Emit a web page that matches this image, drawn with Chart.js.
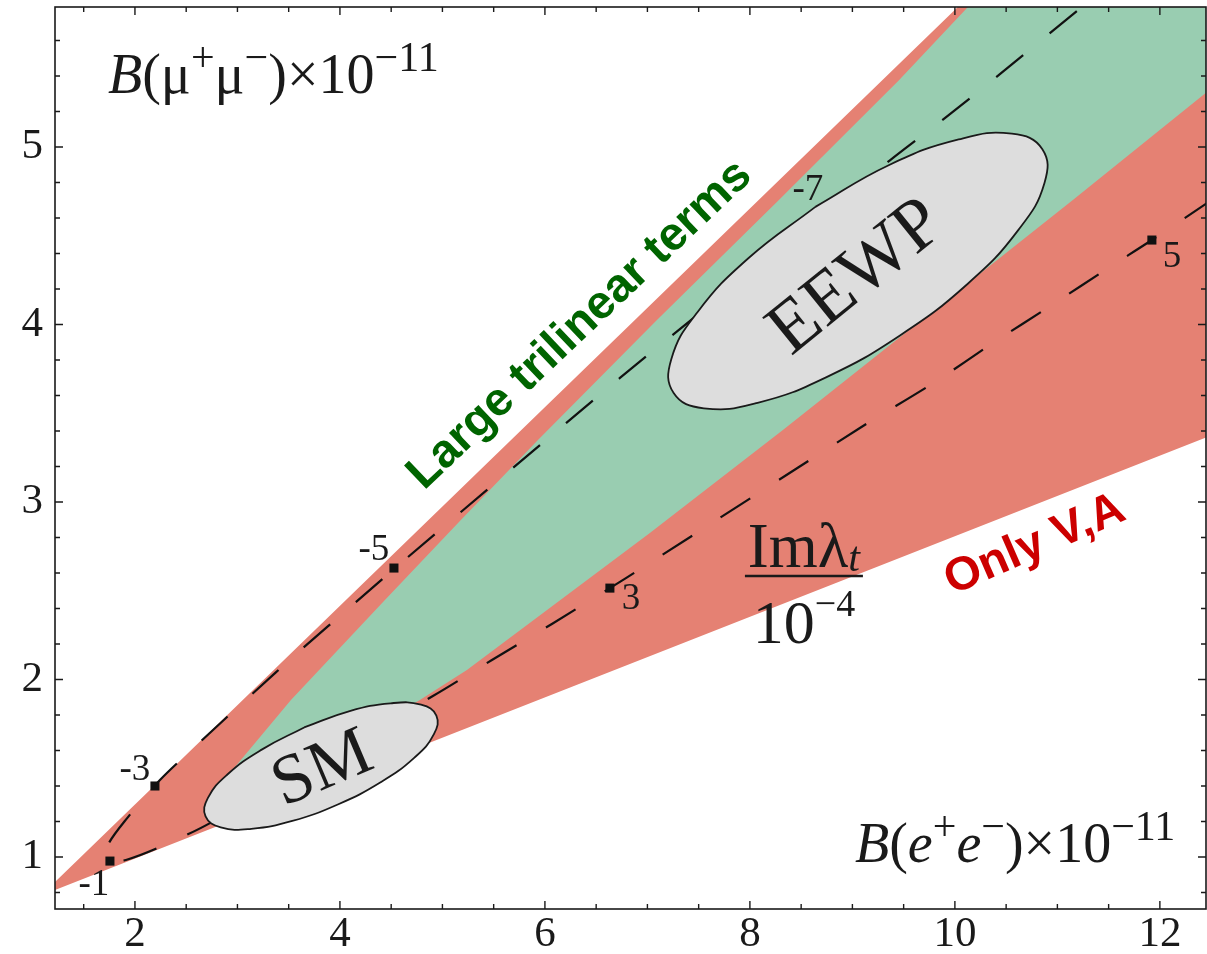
<!DOCTYPE html>
<html>
<head>
<meta charset="utf-8">
<script src="https://cdn.jsdelivr.net/npm/chart.js@4.4.1/dist/chart.umd.min.js"></script>
<style>
  html, body { margin: 0; padding: 0; background: #fff; }
  #wrap { width: 1207px; height: 954px; }
</style>
</head>
<body>
<div id="wrap"><canvas id="chart" width="1207" height="954"></canvas></div>
<script>
// x = B(e+e-) x 1e-11, y = B(mu+mu-) x 1e-11
const xTicks = [2, 4, 6, 8, 10, 12];
const yTicks = [1, 2, 3, 4, 5];

// red wedge ("Only V,A")
const onlyVABand = [
  [1.085, 0.783], [10.40, 5.997], [12.60, 5.997], [12.60, 3.398], [1.085, 0.783]
];

// green band ("Large trilinear terms")
const trilinearBand = [
  [2.849, 1.321], [2.927, 1.473], [3.522, 1.885], [4.439, 2.448], [5.180, 2.899],
  [5.932, 3.349], [7.093, 4.025], [8.283, 4.701], [9.454, 5.377], [10.127, 5.789],
  [10.341, 5.918], [12.60, 5.918], [12.60, 5.376], [12.459, 5.310], [11.151, 4.701],
  [8.322, 3.406], [7.024, 2.825], [5.239, 2.054], [4.780, 1.885], [3.610, 1.490],
  [2.849, 1.321]
];

// dashed Im(lambda_t) curve
const imLambdaCurve = [
  [11.512, 5.918], [11.239, 5.789], [10.439, 5.411], [9.902, 5.163], [9.366, 4.925],
  [7.512, 4.065], [6.732, 3.699], [5.688, 3.192], [4.654, 2.685], [4.146, 2.431],
  [3.629, 2.172], [3.122, 1.907], [2.624, 1.642], [2.244, 1.434], [1.932, 1.225],
  [1.727, 1.056], [1.756, 0.977], [1.912, 0.983], [2.244, 1.056], [2.732, 1.191],
  [4.907, 1.907], [5.483, 2.110], [6.068, 2.313], [6.634, 2.515], [6.946, 2.628],
  [9.073, 3.417], [9.805, 3.676], [10.371, 3.896], [10.946, 4.110], [11.512, 4.324],
  [11.922, 4.476], [12.459, 4.684], [12.683, 4.769]
];

// marked values of Im(lambda_t)/1e-4 along the curve
const markerX = [1.756, 2.195, 4.527, 8.780, 6.634, 11.922];
const markerY = [0.977, 1.400, 2.628, 4.656, 2.515, 4.476];
const markerText = ['-1', '-3', '-5', '-7', '3', '5'];

// ellipse outlines
const smOutline = [
  [3.651, 1.730], [3.237, 1.605], [2.902, 1.465], [2.712, 1.333], [2.689, 1.229],
  [2.837, 1.167], [3.135, 1.159], [3.535, 1.203], [3.979, 1.296], [4.397, 1.421],
  [4.727, 1.560], [4.917, 1.692], [4.941, 1.797], [4.792, 1.858], [4.495, 1.866],
  [4.095, 1.822], [3.651, 1.730]
];
const eewpOutline = [
  [8.639, 4.663], [7.982, 4.372], [7.490, 4.071], [7.233, 3.805], [7.256, 3.614],
  [7.551, 3.528], [8.075, 3.559], [8.748, 3.704], [9.468, 3.940], [10.126, 4.230],
  [10.618, 4.532], [10.874, 4.798], [10.852, 4.989], [10.556, 5.075], [10.037, 5.043],
  [9.359, 4.899], [8.639, 4.663]
];

const SERIF = "'Liberation Serif', 'Times New Roman', serif";
const SANS = "'Liberation Sans', Arial, sans-serif";
const INK = '#1a1a1a';
const RED = '#e58173';
const GREEN = '#99cdb1';

const toPts = arr => arr.map(([x, y]) => ({ x, y }));

const xMinor = [];
for (let v = 1.5; v <= 12.01; v += 0.5) xMinor.push(Math.round(v * 10) / 10);
const yMinor = [];
for (let v = 0.8; v <= 5.61; v += 0.2) yMinor.push(Math.round(v * 10) / 10);

const labelOffsets = [[-16, 24], [-20, -16], [-20, -18], [-22, -18], [21, 11], [20, 17]];

function richText(ctx, x, y, parts, align) {
  let w = 0;
  parts.forEach(p => { ctx.font = p.font; w += ctx.measureText(p.t).width; });
  let cx = align === 'center' ? x - w / 2 : x;
  parts.forEach(p => {
    ctx.font = p.font;
    ctx.fillText(p.t, cx, y + (p.dy || 0));
    cx += ctx.measureText(p.t).width;
  });
}

function rotatedText(ctx, px, py, deg, text, font, color) {
  ctx.save();
  ctx.translate(px, py);
  ctx.rotate(deg * Math.PI / 180);
  ctx.font = font;
  ctx.fillStyle = color;
  ctx.textAlign = 'center';
  ctx.textBaseline = 'middle';
  ctx.fillText(text, 0, 0);
  ctx.restore();
}

const decor = {
  id: 'decor',
  afterDatasetsDraw(chart) {
    const { ctx, chartArea: a, scales: { x, y } } = chart;
    ctx.save();

    // frame + inward ticks on all sides
    ctx.strokeStyle = INK;
    ctx.lineWidth = 1.6;
    ctx.strokeRect(a.left, a.top, a.right - a.left, a.bottom - a.top);
    ctx.lineWidth = 1.4;
    ctx.beginPath();
    xMinor.forEach(v => {
      const px = x.getPixelForValue(v);
      const len = xTicks.includes(v) ? 8 : 5;
      ctx.moveTo(px, a.bottom); ctx.lineTo(px, a.bottom - len);
      ctx.moveTo(px, a.top); ctx.lineTo(px, a.top + len);
    });
    yMinor.forEach(v => {
      const py = y.getPixelForValue(v);
      const len = yTicks.includes(v) ? 8 : 5;
      ctx.moveTo(a.left, py); ctx.lineTo(a.left + len, py);
      ctx.moveTo(a.right, py); ctx.lineTo(a.right - len, py);
    });
    ctx.stroke();

    // marker labels
    ctx.fillStyle = INK;
    ctx.font = `37px ${SERIF}`;
    ctx.textAlign = 'center';
    ctx.textBaseline = 'middle';
    markerText.forEach((t, i) => {
      const px = x.getPixelForValue(markerX[i]) + labelOffsets[i][0];
      const py = y.getPixelForValue(markerY[i]) + labelOffsets[i][1];
      ctx.fillText(t, px, py);
    });

    // region names
    rotatedText(ctx, x.getPixelForValue(6.341), y.getPixelForValue(3.997), -43.5,
      'Large trilinear terms', `bold 47px ${SANS}`, '#006400');
    rotatedText(ctx, x.getPixelForValue(10.78), y.getPixelForValue(2.758), -23.5,
      'Only V,A', `bold 47px ${SANS}`, '#cc0000');
    rotatedText(ctx, x.getPixelForValue(9.044), y.getPixelForValue(4.262), -39,
      'EEWP', `74px ${SERIF}`, INK);
    rotatedText(ctx, x.getPixelForValue(3.834), y.getPixelForValue(1.490), -23,
      'SM', `70px ${SERIF}`, INK);

    // Im lambda_t / 10^-4
    ctx.textAlign = 'left';
    ctx.textBaseline = 'alphabetic';
    const fx = x.getPixelForValue(8.527), fy = y.getPixelForValue(2.583);
    richText(ctx, fx, fy - 9, [
      { t: 'Imλ', font: `63px ${SERIF}` },
      { t: 't', font: `italic 42px ${SERIF}`, dy: 4 }
    ], 'center');
    ctx.lineWidth = 2.5;
    ctx.beginPath();
    ctx.moveTo(fx - 59, fy); ctx.lineTo(fx + 59, fy);
    ctx.stroke();
    richText(ctx, fx, fy + 67, [
      { t: '10', font: `62px ${SERIF}` },
      { t: '−4', font: `38px ${SERIF}`, dy: -27 }
    ], 'center');

    // axis titles inside the frame
    const big = `56px ${SERIF}`, bigI = `italic 56px ${SERIF}`, sup = `42px ${SERIF}`;
    richText(ctx, a.left + 53, a.top + 86, [
      { t: 'B', font: bigI }, { t: '(', font: big }, { t: 'μ', font: big },
      { t: '+', font: sup, dy: -22 }, { t: 'μ', font: big }, { t: '−', font: sup, dy: -22 },
      { t: ')', font: big }, { t: '×', font: big }, { t: '10', font: big },
      { t: '−11', font: sup, dy: -22 }
    ]);
    richText(ctx, a.right - 351, a.bottom - 47, [
      { t: 'B', font: bigI }, { t: '(', font: big }, { t: 'e', font: bigI },
      { t: '+', font: sup, dy: -22 }, { t: 'e', font: bigI }, { t: '−', font: sup, dy: -22 },
      { t: ')', font: big }, { t: '×', font: big }, { t: '10', font: big },
      { t: '−11', font: sup, dy: -22 }
    ]);
    ctx.restore();
  }
};

const tickFont = { family: SERIF, size: 43 };

new Chart(document.getElementById('chart'), {
  type: 'scatter',
  data: {
    datasets: [
      {
        label: 'EEWP', data: toPts(eewpOutline), showLine: true, fill: 'shape',
        backgroundColor: '#dddddd', borderColor: INK, borderWidth: 1.8,
        tension: 0.45, pointRadius: 0, order: 1, clip: 0
      },
      {
        label: 'SM', data: toPts(smOutline), showLine: true, fill: 'shape',
        backgroundColor: '#dddddd', borderColor: INK, borderWidth: 1.8,
        tension: 0.45, pointRadius: 0, order: 1, clip: 0
      },
      {
        label: 'marks', data: markerX.map((v, i) => ({ x: v, y: markerY[i] })),
        showLine: false, pointStyle: 'rect', pointRadius: 6.4,
        pointBackgroundColor: '#111', pointBorderWidth: 0, order: 3, clip: 0
      },
      {
        label: 'Im lambda_t', data: toPts(imLambdaCurve), showLine: true, fill: false,
        borderColor: '#111', borderWidth: 2.2, borderDash: [35, 34], borderDashOffset: 26,
        tension: 0.3, pointRadius: 0, order: 4, clip: 0
      },
      {
        label: 'Large trilinear terms', data: toPts(trilinearBand), showLine: true,
        fill: 'shape', backgroundColor: GREEN, borderWidth: 0, pointRadius: 0,
        order: 5, clip: 0
      },
      {
        label: 'Only V,A', data: toPts(onlyVABand), showLine: true,
        fill: 'shape', backgroundColor: RED, borderWidth: 0, pointRadius: 0,
        order: 6, clip: 0
      }
    ]
  },
  options: {
    responsive: false,
    animation: false,
    events: [],
    layout: { autoPadding: false, padding: { top: 7, right: 1, left: 0, bottom: 0 } },
    elements: { line: { capBezierPoints: false } },
    plugins: { legend: { display: false }, tooltip: { enabled: false } },
    scales: {
      x: {
        type: 'linear', min: 1.22, max: 12.45,
        afterBuildTicks: s => { s.ticks = xTicks.map(v => ({ value: v })); },
        afterFit: s => { s.height = 45; s.paddingLeft = 0; s.paddingRight = 0; },
        ticks: { font: tickFont, color: INK, padding: 0, maxRotation: 0, autoSkip: false,
                 callback: v => String(v) },
        grid: { display: false, drawTicks: false },
        border: { display: false }
      },
      y: {
        type: 'linear', min: 0.707, max: 5.789,
        afterBuildTicks: s => { s.ticks = yTicks.map(v => ({ value: v })); },
        afterFit: s => { s.width = 55; s.paddingTop = 0; s.paddingBottom = 0; },
        ticks: { font: tickFont, color: INK, padding: 12, autoSkip: false,
                 callback: v => String(v) },
        grid: { display: false, drawTicks: false },
        border: { display: false }
      }
    }
  },
  plugins: [decor]
});
</script>
</body>
</html>
